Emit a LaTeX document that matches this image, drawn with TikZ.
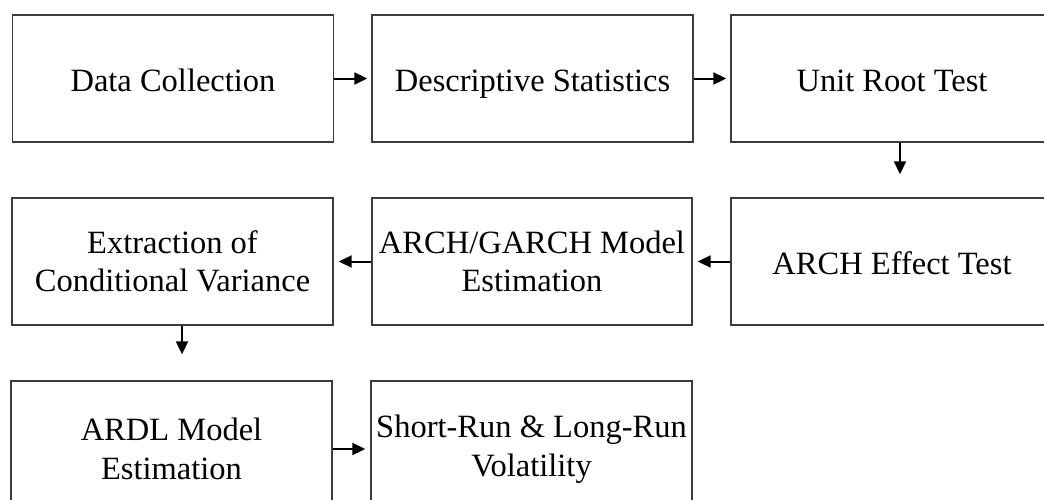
\documentclass[tikz,border=0pt]{standalone}
\usepackage{fontspec}
\setmainfont{Liberation Serif}
\usetikzlibrary{arrows.meta}
\definecolor{boxgray}{HTML}{3C3C3C}
\begin{document}
\begin{tikzpicture}[x=1pt,y=-1pt,
  box/.style={draw=boxgray, line width=1.4pt, minimum width=321pt, minimum height=127pt,
    inner sep=0pt, align=center, font=\fontsize{32.5}{38.5}\selectfont},
  oneline/.style={text height=29pt, text depth=4pt},
  arr/.style={line width=2pt, -{Triangle[length=13pt,width=12pt]}}]
\useasboundingbox (0,0) rectangle (1044,499);
\clip (0,0) rectangle (1044,499);
\fill[white] (0,0) rectangle (1044,499);
\node[box, oneline] (b1) at (173,78.5) {Data Collection};
\node[box, oneline] (b2) at (532.5,78.5) {Descriptive Statistics};
\node[box, oneline, minimum width=322pt] (b3) at (892,78.5) {Unit Root Test};
\node[box] (b4) at (172.5,261.5) {Extraction of\\Conditional Variance};
\node[box, minimum width=320pt] (b5) at (532,261.5) {ARCH/GARCH Model\\Estimation};
\node[box, oneline, minimum width=322pt] (b6) at (892,261.5) {ARCH Effect Test};
\node[box, minimum height=136pt] (b7) at (171.5,449) {ARDL Model\\Estimation};
\node[box, minimum height=136pt] (b8) at (531.5,449) {Short-Run \& Long-Run\\Volatility};
\draw[arr, shorten >=4pt] (b1.east) -- (b2.west);
\draw[arr, shorten >=4pt] (b2.east) -- (b3.west);
\draw[arr, shorten >=23pt] ([xshift=8pt]b3.south) -- ([xshift=8pt]b6.north);
\draw[arr, shorten >=5pt] (b6.west) -- (b5.east);
\draw[arr, shorten >=5pt] (b5.west) -- (b4.east);
\draw[arr, shorten >=26pt] ([xshift=9.5pt]b4.south) -- ([xshift=10.5pt]b7.north);
\draw[arr, shorten >=5pt] (b7.east) -- (b8.west);
\end{tikzpicture}
\end{document}
